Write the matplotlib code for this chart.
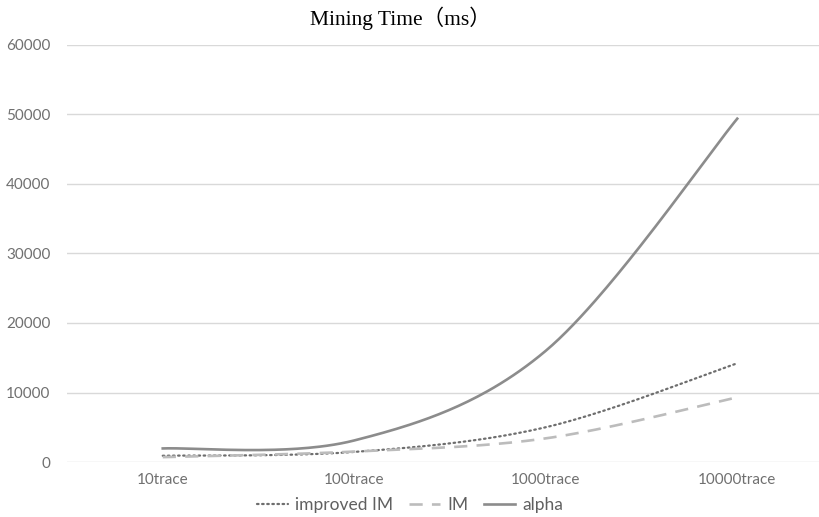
import numpy as np
import matplotlib
matplotlib.use("Agg")
import matplotlib.pyplot as plt

categories = ["10trace", "100trace", "1000trace", "10000trace"]
improved_im = [900, 1450, 5000, 14200]
im = [700, 1500, 3400, 9300]
alpha = [1950, 3100, 16000, 49400]
title = "Mining Time（ms）"


def smooth(y, n=60):
    # Excel-style smoothed line (Catmull-Rom Bezier) through category points
    x = np.arange(len(y), dtype=float)
    y = np.asarray(y, dtype=float)
    P = np.column_stack([x, y])
    xs, ys = [], []
    for i in range(len(P) - 1):
        p0 = P[max(i - 1, 0)]
        p1 = P[i]
        p2 = P[i + 1]
        p3 = P[min(i + 2, len(P) - 1)]
        c1 = p1 + (p2 - p0) / 6.0
        c2 = p2 - (p3 - p1) / 6.0
        t = np.linspace(0, 1, n)[:, None]
        b = ((1 - t) ** 3) * p1 + 3 * ((1 - t) ** 2) * t * c1 + 3 * (1 - t) * t ** 2 * c2 + t ** 3 * p2
        if i > 0:
            b = b[1:]
        xs.append(b[:, 0])
        ys.append(b[:, 1])
    return np.concatenate(xs), np.concatenate(ys)


fig = plt.figure(figsize=(8.19, 5.17), dpi=100)
ax = fig.add_axes([67 / 819, 55 / 517, 766 / 819, 417 / 517])

x1, y1 = smooth(improved_im)
x2, y2 = smooth(im)
x3, y3 = smooth(alpha)

ax.plot(x1, y1, color="#6e6e6e", lw=1.6, linestyle=(0, (0.7, 1.6)),
        dash_capstyle="round", label="improved IM")
ax.plot(x2, y2, color="#bcbcbc", lw=1.9, linestyle=(0, (5, 3.5)), label="IM")
ax.plot(x3, y3, color="#8c8c8c", lw=1.9, label="alpha")

ax.set_xlim(-0.5, 3.5)
ax.set_ylim(0, 60000)
ax.set_yticks(np.arange(0, 60001, 10000))
ax.set_xticks(range(len(categories)))
ax.set_xticklabels(categories)
ax.grid(axis="y", color="#d9d9d9", lw=1)
ax.set_axisbelow(True)
for s in ax.spines.values():
    s.set_visible(False)
ax.tick_params(axis="both", length=0, colors="#707070", labelsize=11)
for lbl in ax.get_xticklabels() + ax.get_yticklabels():
    lbl.set_family("Lato")
ax.tick_params(axis="y", pad=12)
ax.tick_params(axis="x", pad=8)

fig.text(400 / 819, 1 - 18 / 517, title, ha="center", va="center",
         fontsize=15.5, family=["Liberation Serif", "Noto Sans CJK SC"], color="#000000")

leg = fig.legend(loc="center", bbox_to_anchor=(410 / 819, 1 - 505 / 517), ncol=3,
                 frameon=False, handlelength=1.8, columnspacing=0.9,
                 handletextpad=0.4, prop={"family": "Lato", "size": 12.5})
for t in leg.get_texts():
    t.set_color("#606060")

fig.savefig("out.png", dpi=100, facecolor="white")
